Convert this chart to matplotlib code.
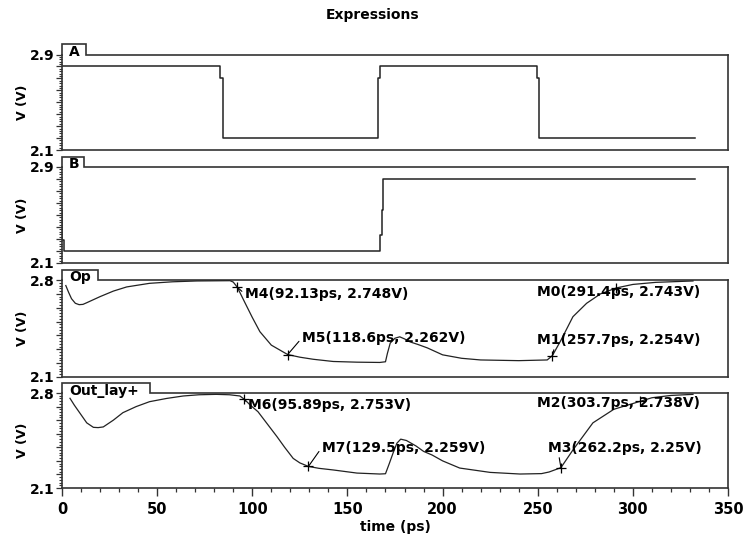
import numpy as np
import matplotlib
matplotlib.use("Agg")
from matplotlib import pyplot as plt
from matplotlib.ticker import MultipleLocator

plt.rcParams['font.family'] = ['DejaVu Sans']
plt.rcParams['font.weight'] = 'bold'

# ---- data (time in ps, voltage in V) ----
a_t = [0, 83.1, 83.1, 84.4, 84.4, 166.2, 166.2, 167.1, 167.1, 249.6, 249.6, 250.6, 250.6, 332.6]
a_v = [2.8, 2.8, 2.705, 2.705, 2.2, 2.2, 2.705, 2.705, 2.8, 2.8, 2.705, 2.705, 2.2, 2.2]

b_t = [0, 0.2, 0.2, 1.0, 1.0, 167.3, 167.3, 168.0, 168.0, 168.8, 168.8, 332.6]
b_v = [2.54, 2.54, 2.29, 2.29, 2.2, 2.2, 2.33, 2.33, 2.54, 2.54, 2.8, 2.8]

op_t = [2, 3.5, 5, 7, 9, 11, 13, 20, 27, 34, 46, 58, 70.8, 88.3, 90, 92.13, 96, 100, 104,
        110, 118.6, 125, 132, 142.5, 155, 167, 170, 171, 172.5, 175, 177.5, 180, 183, 187,
        192, 200, 210, 220, 240, 255, 257.7, 262, 268.5, 275.7, 283, 291.4, 300, 312, 331.6]
op_v = [2.76, 2.71, 2.665, 2.632, 2.622, 2.624, 2.636, 2.68, 2.72, 2.75, 2.776, 2.787, 2.793,
        2.795, 2.785, 2.748, 2.64, 2.53, 2.427, 2.33, 2.262, 2.243, 2.228, 2.212, 2.207, 2.205,
        2.21, 2.27, 2.345, 2.38, 2.39, 2.375, 2.353, 2.335, 2.31, 2.26, 2.235, 2.223, 2.218,
        2.223, 2.254, 2.36, 2.535, 2.632, 2.70, 2.743, 2.768, 2.783, 2.793]

out_t = [4.2, 6.5, 9.5, 13, 16.5, 19, 21.7, 27, 32, 39, 46, 55, 63.7, 72, 81, 88, 93.5, 95.89,
         99, 103, 108, 113, 117, 121.5, 125, 129.5, 135, 142.5, 155, 167, 170, 172, 174, 176,
         178, 181, 186, 190, 194.5, 200, 209, 225, 240.7, 252, 256, 262.2, 268.5, 279, 290,
         303.7, 310, 320, 331.6]
out_v = [2.761, 2.71, 2.65, 2.58, 2.547, 2.545, 2.55, 2.6, 2.655, 2.70, 2.736, 2.76, 2.778,
         2.787, 2.79, 2.787, 2.778, 2.753, 2.71, 2.662, 2.57, 2.478, 2.40, 2.318, 2.285, 2.259,
         2.245, 2.233, 2.21, 2.203, 2.205, 2.28, 2.358, 2.43, 2.46, 2.45, 2.41, 2.37, 2.343,
         2.30, 2.247, 2.215, 2.203, 2.206, 2.218, 2.25, 2.38, 2.58, 2.68, 2.738, 2.765, 2.782,
         2.79]

# markers: name, time, voltage
op_mk_names = ["M4", "M5", "M0", "M1"]
op_mk_t = [92.13, 118.6, 291.4, 257.7]
op_mk_v = [2.748, 2.262, 2.743, 2.254]
out_mk_names = ["M6", "M7", "M2", "M3"]
out_mk_t = [95.89, 129.5, 303.7, 262.2]
out_mk_v = [2.753, 2.259, 2.738, 2.25]

panel_names = ["A", "B", "Op", "Out_lay+"]
panel_ylim = [(2.1, 2.9), (2.1, 2.9), (2.1, 2.8), (2.1, 2.8)]

# ---- layout (pixels of the 745x537 picture) ----
W, H = 745, 537
left_px, right_px = 62, 728
panel_px = [(54.5, 150), (167, 263), (280, 377), (393, 488)]   # top, bottom
tab_w_px = [24, 22, 36, 88]
tab_h_px = 10.5
# label anchors (t, v) and where the leader line meets the text box
op_lbl = [((96.0, 2.70), (0, 0.5)), ((126.0, 2.381), (0, 0.5)),
          ((249.4, 2.713), None), ((249.4, 2.367), (0.11, 0.0))]
out_lbl = [((98.0, 2.71), (0, 0.5)), ((136.5, 2.398), (0, 0.5)),
           ((249.4, 2.726), None), ((255.4, 2.395), (0.07, 0.0))]

ln_col = '#222222'
fig = plt.figure(figsize=(W / 100, H / 100), dpi=100)
fig.text(0.5, 1 - 15 / H, "Expressions", ha='center', va='center', fontsize=10, fontweight='bold')

axes = []
for i, (top, bot) in enumerate(panel_px):
    ax = fig.add_axes([left_px / W, 1 - bot / H, (right_px - left_px) / W, (bot - top) / H])
    axes.append(ax)
    ax.set_xlim(0, 350)
    ax.set_ylim(*panel_ylim[i])
    for s in ax.spines.values():
        s.set_linewidth(1.2)
        s.set_color('#333333')
    ax.spines['top'].set_visible(False)

    # folder-like tab with the signal name
    tw = tab_w_px[i] / (right_px - left_px)
    th = tab_h_px / (bot - top)
    ax.plot([0, 0, tw, tw, 1], [1, 1 + th, 1 + th, 1, 1], color='#333333', lw=1.2,
            transform=ax.transAxes, clip_on=False, solid_joinstyle='miter')
    ax.text(7 / (right_px - left_px), 1 - 1.5 / (bot - top), panel_names[i], transform=ax.transAxes,
            ha='left', va='baseline', fontsize=10, fontweight='bold')

    lo, hi = panel_ylim[i]
    ticks = np.round(np.arange(lo, hi + 0.001, 0.1), 2)
    ax.set_yticks(ticks)
    ax.set_yticklabels([("%.1f" % t) if t in (lo, hi) else "" for t in ticks])
    ax.yaxis.set_minor_locator(MultipleLocator(0.02))
    ax.tick_params(axis='y', which='major', direction='out', length=4.5, width=0.9,
                   labelsize=10, pad=1, colors='#333333', labelcolor='black')
    ax.tick_params(axis='y', which='minor', direction='out', length=2.5, width=0.8, colors='#333333')
    ax.set_ylabel("V (V)", fontsize=9, fontweight='bold')
    ax.yaxis.set_label_coords(-33 / (right_px - left_px), 0.5)

    if i < 3:
        ax.set_xticks([])
    else:
        ax.xaxis.set_major_locator(MultipleLocator(50))
        ax.xaxis.set_minor_locator(MultipleLocator(10))
        ax.tick_params(axis='x', which='major', direction='out', length=6, width=1.0,
                       labelsize=10.5, pad=4, colors='#333333', labelcolor='black')
        ax.tick_params(axis='x', which='minor', direction='out', length=3, width=0.9, colors='#333333')
        ax.set_xlabel("time (ps)", fontsize=10, fontweight='bold', labelpad=2)

axes[0].plot(a_t, a_v, color=ln_col, lw=1.1)
axes[1].plot(b_t, b_v, color=ln_col, lw=1.1)
axes[2].plot(op_t, op_v, color=ln_col, lw=0.9)
axes[3].plot(out_t, out_v, color=ln_col, lw=0.9)

for ax, names, mt, mv, lbls in [(axes[2], op_mk_names, op_mk_t, op_mk_v, op_lbl),
                                (axes[3], out_mk_names, out_mk_t, out_mk_v, out_lbl)]:
    ax.plot(mt, mv, '+', color='black', ms=7, mew=0.9)
    for n, t, v, (pos, rel) in zip(names, mt, mv, lbls):
        label = "%s(%sps, %sV)" % (n, ("%g" % t), ("%g" % v))
        if rel is None:
            ax.text(pos[0], pos[1], label, ha='left', va='center', fontsize=10, fontweight='bold')
        else:
            ax.annotate(label, xy=(t, v), xytext=pos, ha='left', va='center', fontsize=10,
                        fontweight='bold',
                        arrowprops=dict(arrowstyle='-', lw=0.8, color='black', relpos=rel,
                                        shrinkA=0, shrinkB=0))

fig.savefig("out.png", dpi=100)
